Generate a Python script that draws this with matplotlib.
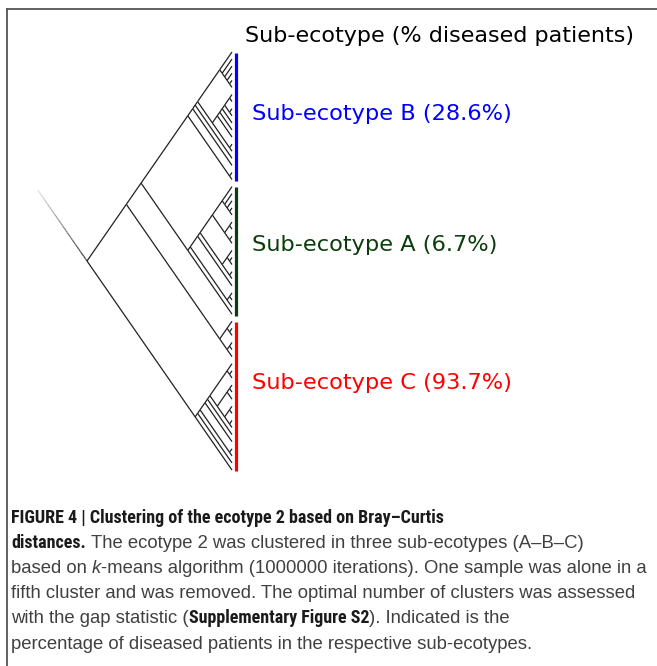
import matplotlib
matplotlib.use("Agg")
import matplotlib.pyplot as plt
from matplotlib.lines import Line2D
from matplotlib.collections import LineCollection
import numpy as np

# --- tree topology (tips numbered 0..59 from top to bottom) ---
blue_top = (0, (1, (2, (3, (4, 5)))))
blue_mid = ((((((6, 7), (8, 9)), 10), 11), 12), (13, 14))
blue_clade = ((((blue_top, blue_mid), 15), 16), (17, 18))

green_top = (19, (20, (21, (22, 23))))
green_mid = ((24, 25), (26, 27))
green_low = ((28, (29, 30)), (31, 32))
green_clade = (((((green_top, green_mid), green_low), 33), ((34, 35), 36)), 37)

red_upper = ((38, (39, 40)), ((41, 42), 43))
red_top10 = ((44, (45, 46)), (((47, 48), 49), ((50, 51), (52, 53))))
red_lower = (((((red_top10, 54), 55), (56, 57)), 58), 59)

tree = (((blue_clade, green_clade), red_upper), red_lower)
root_edge = 10.0

# sub-ecotype clusters: (first tip, last tip)
cluster_names = ["Sub-ecotype B (28.6%)", "Sub-ecotype A (6.7%)", "Sub-ecotype C (93.7%)"]
cluster_tips = [(0, 18), (19, 37), (38, 59)]
cluster_colors = ["#0000ff", "#0b3d0b", "#ff0000"]
label_pos = [8.8, 27.3, 46.7]
title = "Sub-ecotype (% diseased patients)"


def layout(node, segs):
    """cladogram layout: returns (lo, hi, x, y) of node, appends edges to segs"""
    if isinstance(node, int):
        return node, node, 0.0, float(node)
    kids = [layout(c, segs) for c in node]
    lo = min(k[0] for k in kids)
    hi = max(k[1] for k in kids)
    x = -(hi - lo) / 2.0
    y = (lo + hi) / 2.0
    for k in kids:
        segs.append([(x, y), (k[2], k[3])])
    return lo, hi, x, y


W, H = 657, 666
fig = plt.figure(figsize=(W / 100, H / 100), dpi=100)
ax = fig.add_axes([0, 0, 1, 1])
px_x, px_y = 4.915, 7.085   # pixels per unit
leaf_px, top_px = 232, 52
ax.set_xlim(-leaf_px / px_x, (W - leaf_px) / px_x)
ax.set_ylim((H - top_px) / px_y, -top_px / px_y)
ax.axis("off")

segs = []
lo, hi, rx, ry = layout(tree, segs)
ax.add_collection(LineCollection(segs, colors="#222222", linewidths=0.9))

# root edge, fading out
n = 30
t = np.linspace(0, 1, n + 1)
xs = rx - root_edge * t
ys = ry - root_edge * t
rsegs = [[(xs[i], ys[i]), (xs[i + 1], ys[i + 1])] for i in range(n)]
shade = np.linspace(0.25, 0.88, n)
ax.add_collection(LineCollection(rsegs, colors=[(s, s, s) for s in shade], linewidths=0.9))

# cluster bars and labels
bar_x = 0.72
lab_x = 4.1
for name, (a, b), c, ly in zip(cluster_names, cluster_tips, cluster_colors, label_pos):
    ax.plot([bar_x, bar_x], [a + 0.1, b + 0.2], color=c, lw=2.3, solid_capstyle="butt")
    ax.text(lab_x, ly, name, color=c, fontsize=16.2, va="center", ha="left",
            family="DejaVu Sans")
ax.text(lab_x - 1.4, (36 - top_px) / px_y, title, color="black", fontsize=16,
        va="center", ha="left", family="DejaVu Sans")

# frame of the figure panel
fig.add_artist(Line2D([7 / W, 1], [1 - 9 / H, 1 - 9 / H], color="#555555", lw=1.3))
fig.add_artist(Line2D([7 / W, 7 / W], [0, 1 - 9 / H], color="#555555", lw=1.3))

# caption with mixed styles
cap_size = 13.3
styles = {
    "b": dict(weight="bold", color="#1a1a1a", size=13.3,
              family=["Roboto Condensed", "Roboto"]),
    "n": dict(weight="normal", color="#404040", size=cap_size, family="Liberation Sans"),
    "i": dict(weight="normal", style="italic", color="#404040", size=cap_size,
              family="Liberation Sans"),
}
caption = [
    [("FIGURE 4 | Clustering of the ecotype 2 based on Bray–Curtis", "b")],
    [("distances.", "b"), (" The ecotype 2 was clustered in three sub-ecotypes (A–B–C)", "n")],
    [("based on ", "n"), ("k", "i"), ("-means algorithm (1000000 iterations). One sample was alone in a", "n")],
    [("fifth cluster and was removed. The optimal number of clusters was assessed", "n")],
    [("with the gap statistic (", "n"), ("Supplementary Figure S2", "b"), ("). Indicated is the", "n")],
    [("percentage of diseased patients in the respective sub-ecotypes.", "n")],
]
baselines = [523, 548, 573, 598, 623, 649]

fig.canvas.draw()
renderer = fig.canvas.get_renderer()


def text_width(s, st):
    tt = fig.text(0, 0, s, **styles[st])
    w = tt.get_window_extent(renderer).width
    tt.remove()
    return w


# the bold title run is set narrow: size it to its printed width
styles["b"]["size"] *= 434.0 / text_width(caption[0][0][0], "b")

space_w = {st: text_width("a a", st) - text_width("aa", st) for st in styles}

for runs, base in zip(caption, baselines):
    x = 11.0
    for s, st in runs:
        lead = len(s) - len(s.lstrip(" "))
        trail = len(s) - len(s.rstrip(" "))
        core = s.strip(" ")
        x += lead * space_w[st]
        tt = fig.text(x / W, 1 - base / H, core, va="baseline", ha="left", **styles[st])
        x += tt.get_window_extent(renderer).width + trail * space_w[st]

fig.savefig("out.png", dpi=100)
